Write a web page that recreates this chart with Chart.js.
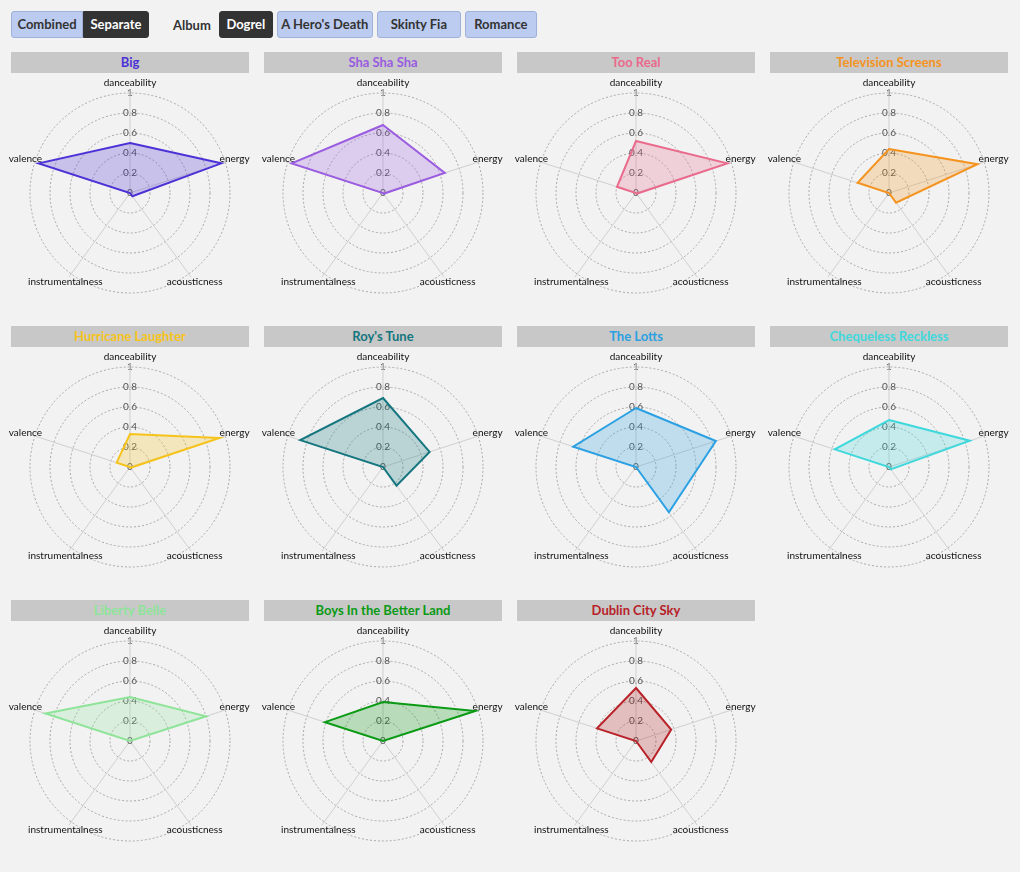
<!DOCTYPE html>
<html>
<head>
<meta charset="utf-8">
<title>Dogrel - audio features</title>
<script src="https://cdn.jsdelivr.net/npm/chart.js@4.4.1/dist/chart.umd.min.js"></script>
<style>
  body {
    margin: 0;
    width: 1020px;
    height: 872px;
    overflow: hidden;
    position: relative;
    background: #f2f2f2;
    font-family: Lato, "Noto Sans", sans-serif;
  }
  .toolbar {
    position: absolute;
    left: 11px;
    top: 11px;
    display: flex;
    align-items: center;
    height: 27px;
  }
  .btn {
    box-sizing: border-box;
    height: 27px;
    line-height: 25px;
    border: 1px solid #9fb0da;
    background: #bccbf0;
    color: #333;
    font-weight: 700;
    font-size: 13px;
    text-align: center;
    border-radius: 3px;
    margin-right: 4px;
  }
  .btn.on {
    background: #333;
    border-color: #333;
    color: #fff;
  }
  .seg-l { border-radius: 3px 0 0 3px; margin-right: 0; }
  .seg-r { border-radius: 0 3px 3px 0; margin-right: 24px; }
  .label {
    font-weight: 700;
    font-size: 13px;
    color: #333;
    margin-right: 8px;
  }
  .panel {
    position: absolute;
    width: 238px;
    height: 270px;
  }
  .panel .title {
    height: 21px;
    line-height: 21px;
    background: #c8c8c8;
    text-align: center;
    font-weight: 700;
    font-size: 13px;
  }
  .panel canvas {
    position: absolute;
    left: -10px;
    top: 21px;
  }
</style>
</head>
<body>
<div class="toolbar">
  <div class="btn seg-l" style="width:72px">Combined</div>
  <div class="btn on seg-r" style="width:66px">Separate</div>
  <div class="label">Album</div>
  <div class="btn on" style="width:54px">Dogrel</div>
  <div class="btn" style="width:96px">A Hero's Death</div>
  <div class="btn" style="width:84px">Skinty Fia</div>
  <div class="btn" style="width:72px">Romance</div>
</div>
<div id="grid"></div>

<script>
// Axes of every radar
const features = ["danceability", "energy", "acousticness", "instrumentalness", "valence"];
const tickValues = [0, 0.2, 0.4, 0.6, 0.8, 1];

// Tracks of the album, one radar each
const songs = [
  "Big", "Sha Sha Sha", "Too Real", "Television Screens",
  "Hurricane Laughter", "Roy's Tune", "The Lotts", "Chequeless Reckless",
  "Liberty Belle", "Boys In the Better Land", "Dublin City Sky"
];
const songColors = [
  "#4b32d6", "#9a5ce0", "#ea6a8c", "#f5931f",
  "#f6c31b", "#15767f", "#2ba0e2", "#3fd8dc",
  "#8fe49a", "#0a9a14", "#b82228"
];

// Feature values per song (same order as songs)
const danceability     = [0.50, 0.68, 0.52, 0.44, 0.33, 0.69, 0.59, 0.47, 0.44, 0.39, 0.53];
const energy           = [0.96, 0.65, 0.96, 0.93, 0.94, 0.49, 0.84, 0.85, 0.80, 0.97, 0.37];
const acousticness     = [0.04, 0.01, 0.01, 0.12, 0.01, 0.23, 0.56, 0.03, 0.00, 0.00, 0.26];
const instrumentalness = [0.00, 0.00, 0.00, 0.00, 0.00, 0.00, 0.00, 0.00, 0.00, 0.00, 0.00];
const valence          = [0.96, 0.96, 0.20, 0.33, 0.14, 0.87, 0.66, 0.57, 0.89, 0.61, 0.41];

/**
 * Angle lines, centred point labels and the "0" tick
 */
const radarDecor = {
  id: "radarDecor",
  beforeDatasetsDraw(chart) {
    const r = chart.scales.r;
    const ctx = chart.ctx;
    ctx.save();
    ctx.strokeStyle = "#cfcfcf";
    ctx.lineWidth = 1;
    features.forEach((f, i) => {
      const p = r.getPointPosition(i, r.drawingArea + 4);
      ctx.beginPath();
      ctx.moveTo(r.xCenter, r.yCenter);
      ctx.lineTo(p.x, p.y);
      ctx.stroke();
    });
    ctx.textAlign = "center";
    ctx.textBaseline = "middle";
    ctx.font = "10px Lato";
    ctx.fillStyle = "#555";
    ctx.fillText("0", r.xCenter, r.yCenter);
    ctx.fillStyle = "#111";
    features.forEach((f, i) => {
      const p = r.getPointPosition(i, r.drawingArea + 10);
      ctx.fillText(f, p.x, p.y);
    });
    ctx.restore();
  },
};

function createRadarConfig(index) {
  const color = songColors[index];
  return {
    type: "radar",
    data: {
      labels: features,
      datasets: [
        {
          label: songs[index],
          data: [
            danceability[index],
            energy[index],
            acousticness[index],
            instrumentalness[index],
            valence[index],
          ],
          borderColor: color,
          backgroundColor: color + "40",
          borderWidth: 2,
          fill: true,
          pointRadius: 0,
          pointHoverRadius: 0,
        },
      ],
    },
    options: {
      responsive: false,
      animation: false,
      layout: { padding: { left: 22, right: 22, top: 13, bottom: 13 } },
      plugins: {
        legend: { display: false },
        tooltip: { enabled: false },
      },
      scales: {
        r: {
          min: 0,
          max: 1,
          afterBuildTicks: (scale) => {
            scale.ticks = tickValues.map((v) => ({ value: v }));
          },
          ticks: {
            showLabelBackdrop: false,
            color: "#555",
            font: { size: 10, family: "Lato" },
            callback: (v) => String(v),
          },
          grid: {
            circular: true,
            color: "#a8a8a8",
            lineWidth: 1,
            borderDash: [2, 2],
          },
          border: { dash: [2, 2] },
          angleLines: { display: false },
          pointLabels: { display: false },
        },
      },
    },
    plugins: [radarDecor],
  };
}

const grid = document.getElementById("grid");
songs.forEach((song, i) => {
  const col = i % 4;
  const row = Math.floor(i / 4);
  const panel = document.createElement("div");
  panel.className = "panel";
  panel.style.left = 11 + col * 253 + "px";
  panel.style.top = 52 + row * 274 + "px";

  const title = document.createElement("div");
  title.className = "title";
  title.style.color = songColors[i];
  title.textContent = song;
  panel.appendChild(title);

  const canvas = document.createElement("canvas");
  canvas.width = 258;
  canvas.height = 240;
  panel.appendChild(canvas);
  grid.appendChild(panel);

  new Chart(canvas, createRadarConfig(i));
});
</script>
</body>
</html>
